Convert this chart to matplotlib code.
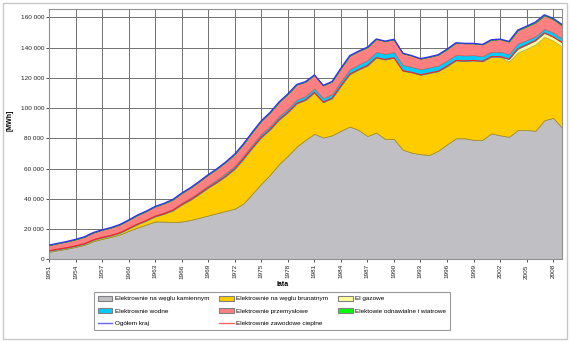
import matplotlib
matplotlib.use("Agg")
import matplotlib.pyplot as plt
from matplotlib.patches import Patch, Rectangle
from matplotlib.lines import Line2D
from matplotlib.ticker import FuncFormatter, MultipleLocator
import numpy as np

plt.rcParams['font.family'] = ['Liberation Sans', 'DejaVu Sans']

# Years shown on the category axis
years = list(range(1951, 2010))

# Electricity generation by plant type, in thousands of MWh
hard_coal = [5.0, 6.0, 7.0, 8.2, 9.6, 12.0, 13.5, 14.8, 16.4, 18.8,
             21.0, 23.0, 25.0, 25.0, 24.6, 25.0, 26.0, 27.5, 29.0, 30.5,
             32.0, 33.5, 37.0, 43.5, 50.0, 56.0, 63.0, 68.5, 74.5, 79.0,
             83.0, 80.5, 82.0, 85.0, 87.8, 85.5, 81.5, 83.8, 79.5, 79.5,
             72.5, 70.5, 69.5, 69.0, 71.8, 76.0, 80.0, 80.0, 79.0, 79.0,
             83.3, 82.0, 81.0, 85.5, 85.5, 85.0, 92.0, 93.5, 87.0]
lignite = [0.6, 0.6, 0.6, 0.6, 0.7, 0.8, 0.9, 0.9, 1.1, 1.5,
           2.2, 2.6, 3.4, 5.1, 7.8, 11.2, 13.4, 15.8, 18.4, 20.5,
           23.1, 26.4, 29.6, 30.4, 30.7, 29.9, 29.3, 28.7, 28.6, 26.4,
           27.3, 23.4, 24.5, 29.8, 34.7, 40.0, 46.6, 49.6, 52.6, 53.8,
           52.2, 53.1, 52.5, 54.2, 52.6, 51.7, 51.5, 51.2, 52.5, 51.9,
           50.7, 51.7, 49.9, 51.3, 53.8, 57.1, 55.2, 51.2, 53.8]
gas = [0.0] * 51 + [0.3, 1.5, 2.4, 2.6, 2.6, 2.5, 2.4, 2.6]
hydro = [0.6, 0.6, 0.6, 0.6, 0.6, 0.6, 0.6, 0.6, 0.6, 0.6,
         0.7, 0.7, 0.8, 0.9, 1.0, 1.2, 1.4, 1.5, 1.6, 1.8,
         2.0, 2.1, 2.1, 2.2, 2.3, 2.3, 2.3, 2.4, 2.5, 2.6,
         2.6, 2.7, 2.8, 3.0, 3.2, 3.4, 3.6, 3.7, 3.8, 3.8,
         3.8, 3.7, 3.7, 3.7, 3.7, 3.7, 3.7, 3.6, 3.5, 3.4,
         3.2, 3.3, 3.3, 3.6, 3.0, 2.8, 2.7, 2.8, 2.7]
industrial = [3.2, 3.4, 3.6, 3.8, 4.0, 4.3, 4.5, 4.7, 4.9, 5.1,
              5.4, 5.6, 5.8, 6.0, 6.2, 6.4, 6.6, 6.8, 7.0, 7.2,
              7.4, 7.6, 7.8, 8.2, 8.6, 9.0, 9.4, 9.8, 10.0, 9.5,
              9.0, 8.4, 8.3, 8.6, 9.0, 8.8, 8.6, 8.6, 8.4, 8.4,
              7.8, 7.4, 7.0, 7.0, 7.2, 7.6, 8.0, 8.0, 7.8, 7.8,
              8.0, 8.2, 8.2, 8.6, 9.0, 9.0, 8.8, 8.8, 8.4]
renewable = [0.0] * 51 + [0.1, 0.2, 0.2, 0.3, 0.4, 0.5, 0.6, 0.8]

scale = 1000.0
series = [np.array(s) * scale for s in
          (hard_coal, lignite, gas, hydro, industrial, renewable)]
labels = ["Elektrownie na węglu kamiennym", "Elektrownie na węglu brunatnym",
          "El gazowe", "Elektrownie wodne", "Elektrownie przemysłowe",
          "Elektowie odnawialne i wiatrowe"]
fills = ["#C0C0C4", "#FFCC00", "#FFFF99", "#00CCFF", "#FF8080", "#00FF00"]
edges = ["#8A8A5A", "#A08A20", "#C0C060", "#2090B0", "#D06060", "#20A020"]

thermal = series[0] + series[1] + series[2]
total = sum(series)

W, H = 570, 342
fig = plt.figure(figsize=(W / 100, H / 100), dpi=100)
fig.patch.set_facecolor("white")

# outer chart frame
fig.patches.append(Rectangle((3 / W, 3 / H), (W - 6) / W, (H - 6) / H,
                             transform=fig.transFigure, fill=False,
                             edgecolor="#C8C8C8", linewidth=1.0))

ax = fig.add_axes([49 / W, 1 - 259.3 / H, (562 - 49) / W, (259.3 - 9.3) / H])
x = np.arange(len(years))

base = np.zeros(len(years))
for vals, fc, ec in zip(series, fills, edges):
    ax.fill_between(x, base, base + vals, facecolor=fc, edgecolor=ec,
                    linewidth=0.5, zorder=2)
    base = base + vals

ax.plot(x, thermal, color="#FF2020", linewidth=0.8, zorder=3)
ax.plot(x, total, color="#3030FF", linewidth=0.9, zorder=3)

ax.set_xlim(0, len(years) - 1)
ax.set_ylim(0, 165300)
ax.yaxis.set_major_locator(MultipleLocator(20000))
ax.yaxis.set_major_formatter(FuncFormatter(
    lambda v, p: f"{int(v):,}".replace(",", " ")))
ticks = x[::3]
ax.set_xticks(ticks)
ax.set_xticklabels([str(years[i]) for i in ticks], rotation=90)
ax.grid(True, color="#707070", linewidth=0.7, zorder=1)
ax.set_axisbelow(True)
for sp in ax.spines.values():
    sp.set_color("#909090")
    sp.set_linewidth(0.8)
ax.tick_params(axis="both", labelsize=4.6, colors="#333333",
               length=2, width=0.6, pad=1.5)
for lab in ax.get_xticklabels() + ax.get_yticklabels():
    lab.set_color("#222222")

fig.text(10 / W, 1 - 120 / H, "[MWh]", rotation=90, fontsize=5,
         fontweight="bold", ha="center", va="center")
fig.text(283 / W, 1 - 285 / H, "lata", fontsize=5, fontweight="bold",
         ha="center", va="center")

patches = [Patch(facecolor=fc, edgecolor=ec, linewidth=0.8, label=lb)
           for fc, ec, lb in zip(fills, ["#808080"] * 6, labels)]
line_total = Line2D([], [], color="#6666FF", linewidth=1.0, label="Ogółem kraj")
line_thermal = Line2D([], [], color="#FF6666", linewidth=1.0,
                      label="Elektrownie zawodowe cieplne")
order = [patches[0], patches[3], line_total,
         patches[1], patches[4], line_thermal,
         patches[2], patches[5]]
leg = fig.legend(handles=order, ncol=3, loc="upper left",
                 bbox_to_anchor=(94 / W, 1 - 292.3 / H),
                 fontsize=4.6, frameon=True, fancybox=False,
                 edgecolor="#808080", handlelength=2.3, handleheight=0.8,
                 handletextpad=0.4, columnspacing=1.5, labelspacing=1.05,
                 borderpad=0.55, borderaxespad=0)
leg.get_frame().set_linewidth(0.8)

fig.savefig("out.png", dpi=100)
